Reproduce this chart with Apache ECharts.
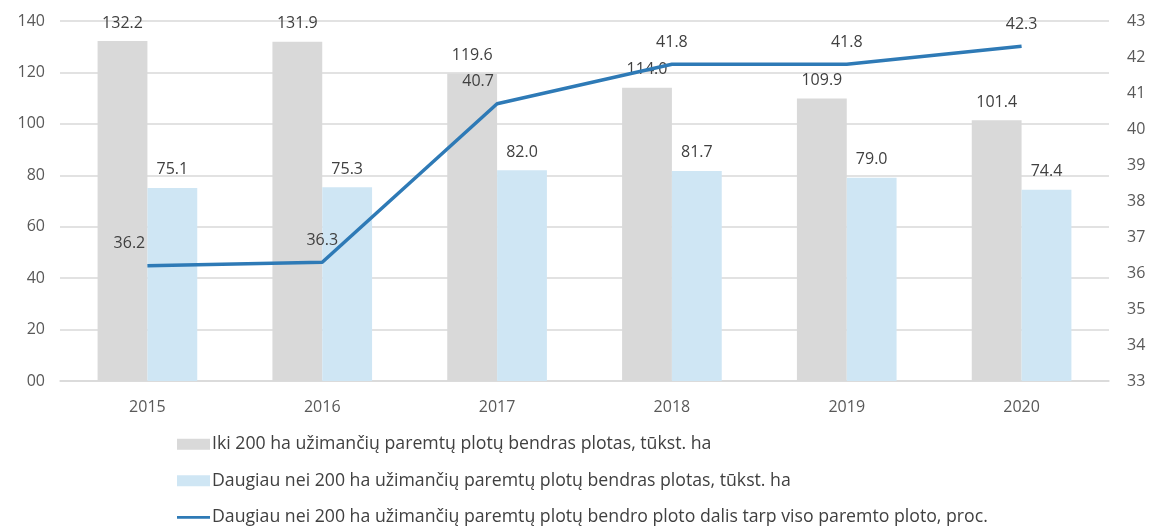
<!DOCTYPE html>
<html>
<head>
<meta charset="utf-8">
<script src="https://cdn.jsdelivr.net/npm/echarts@6/dist/echarts.min.js"></script>
<style>
  html, body { margin: 0; padding: 0; background: #fff; }
  #chart { width: 1156px; height: 527px; }
</style>
</head>
<body>
<div id="chart"></div>
<script>
const years = ['2015', '2016', '2017', '2018', '2019', '2020'];
const smallFarms = [132.2, 131.9, 119.6, 114.0, 109.9, 101.4];
const largeFarms = [75.1, 75.3, 82.0, 81.7, 79.0, 74.4];
const largeShare = [36.2, 36.3, 40.7, 41.8, 41.8, 42.3];

const seriesNames = [
    'Iki 200 ha užimančių paremtų plotų bendras plotas, tūkst. ha',
    'Daugiau nei 200 ha užimančių paremtų plotų bendras plotas, tūkst. ha',
    'Daugiau nei 200 ha užimančių paremtų plotų bendro ploto dalis tarp viso paremto ploto, proc.'
];

const FONT = '"Open Sans", "Noto Sans", sans-serif';
const labelStyle = { color: '#404040', fontSize: 16, fontFamily: FONT };

// a couple of line labels sit slightly left of the point
const shareLabelShift = [[-18, 0], [0, 0], [-19, 0], [0, 0], [0, 0], [0, 0]];

// thin line legend icon; tiny corner stubs keep the bounding box at full item size
const lineIcon = 'path://M0,0L0.01,0L0.01,0.01Z M0,4L36,4L36,7.2L0,7.2Z M35.99,11L36,11L36,10.99Z';

const chart = echarts.init(document.getElementById('chart'));

const option = {
    animation: false,
    backgroundColor: '#fff',
    grid: { left: 60, right: 47, top: 21, bottom: 146 },
    legend: {
        orient: 'vertical',
        left: 177,
        top: 435,
        padding: 0,
        itemGap: 18,
        itemWidth: 33,
        itemHeight: 11,
        textStyle: {
            color: '#404040', fontSize: 17.7, fontFamily: FONT,
            lineHeight: 18.5, padding: [0, 0, 0, -3]
        },
        data: [
            { name: seriesNames[0], icon: 'rect' },
            { name: seriesNames[1], icon: 'rect' },
            { name: seriesNames[2], icon: lineIcon }
        ]
    },
    xAxis: {
        type: 'category',
        data: years,
        axisTick: { show: false },
        axisLine: { lineStyle: { color: '#d9d9d9', width: 1.5 } },
        axisLabel: { color: '#595959', fontSize: 16, fontFamily: FONT, margin: 18 }
    },
    yAxis: [
        {
            type: 'value',
            min: 0,
            max: 140,
            interval: 20,
            axisLabel: {
                color: '#595959', fontSize: 16, fontFamily: FONT, margin: 15,
                formatter: v => (v === 0 ? '00' : String(v))
            },
            splitLine: { lineStyle: { color: '#d9d9d9', width: 1.5 } }
        },
        {
            type: 'value',
            min: 33,
            max: 43,
            interval: 1,
            axisLabel: { color: '#595959', fontSize: 16, fontFamily: FONT, margin: 18 },
            splitLine: { show: false }
        }
    ],
    series: [
        {
            name: seriesNames[0],
            type: 'bar',
            data: smallFarms,
            barGap: '0%',
            barCategoryGap: '43%',
            itemStyle: { color: '#d9d9d9' },
            label: {
                show: true, position: 'top', distance: 10, ...labelStyle,
                formatter: p => p.value.toFixed(1)
            }
        },
        {
            name: seriesNames[1],
            type: 'bar',
            data: largeFarms,
            itemStyle: { color: '#cfe6f4' },
            label: {
                show: true, position: 'top', distance: 10, ...labelStyle,
                formatter: p => p.value.toFixed(1)
            }
        },
        {
            name: seriesNames[2],
            type: 'line',
            yAxisIndex: 1,
            data: largeShare.map((v, i) => ({
                value: v,
                label: { offset: shareLabelShift[i] }
            })),
            symbol: 'circle',
            symbolSize: 0.1,
            showSymbol: true,
            lineStyle: { color: '#2e7ab6', width: 3.5 },
            itemStyle: { color: '#2e7ab6' },
            label: {
                show: true, position: 'top', distance: 14, ...labelStyle,
                formatter: p => p.value.toFixed(1)
            },
            z: 5
        }
    ]
};

chart.setOption(option);
</script>
</body>
</html>
